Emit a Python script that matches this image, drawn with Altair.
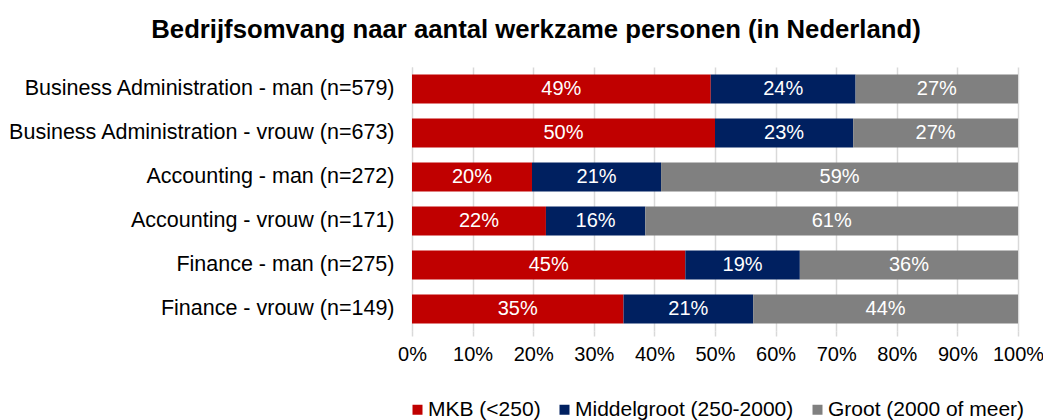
import altair as alt
import pandas as pd

categories = [
    "Business Administration - man (n=579)",
    "Business Administration - vrouw (n=673)",
    "Accounting - man (n=272)",
    "Accounting - vrouw (n=171)",
    "Finance - man (n=275)",
    "Finance - vrouw (n=149)",
]
series = ["MKB (<250)", "Middelgroot (250-2000)", "Groot (2000 of meer)"]
mkb = [49.3, 50.0, 19.8, 22.1, 45.1, 34.9]
middel = [23.9, 22.8, 21.3, 16.4, 18.9, 21.4]
groot = [26.8, 27.2, 58.9, 61.5, 36.0, 43.7]
labels_mkb = ["49%", "50%", "20%", "22%", "45%", "35%"]
labels_middel = ["24%", "23%", "21%", "16%", "19%", "21%"]
labels_groot = ["27%", "27%", "59%", "61%", "36%", "44%"]
colors = ["#C00000", "#002060", "#808080"]

rows = []
for si, (vals, labs) in enumerate([(mkb, labels_mkb), (middel, labels_middel), (groot, labels_groot)]):
    for ci, c in enumerate(categories):
        rows.append({"cat": c, "series": series[si], "order": si, "value": vals[ci], "label": labs[ci]})
df = pd.DataFrame(rows)

FONT = "Liberation Sans"

base = alt.Chart(df).transform_stack(
    stack="value", groupby=["cat"], as_=["v0", "v1"], sort=[alt.SortField("order")]
).transform_calculate(mid="(datum.v0 + datum.v1) / 2")

y = alt.Y("cat:N", sort=categories, title=None,
          scale=alt.Scale(paddingInner=0.34, paddingOuter=0.17),
          axis=alt.Axis(labelFontSize=21.5, labelFont=FONT, labelColor="#000000",
                        ticks=False, labelPadding=18, domain=True, domainColor="#d9d9d9",
                        labelLimit=500))

bars = base.mark_bar().encode(
    x=alt.X("v0:Q", scale=alt.Scale(domain=[0, 100], nice=False), title=None,
            axis=alt.Axis(values=list(range(0, 101, 10)), labelExpr="datum.value + '%'",
                          labelFontSize=20, labelFont=FONT, labelColor="#000000",
                          labelOverlap=False, labelBound=False, labelFlush=False,
                          grid=True, gridColor="#d9d9d9", gridWidth=1.5,
                          domain=False, ticks=True, tickColor="#d9d9d9", tickSize=5,
                          tickWidth=1.5, labelPadding=8)),
    x2="v1:Q",
    y=y,
    color=alt.Color("series:N", sort=series,
                    scale=alt.Scale(domain=series, range=colors),
                    legend=alt.Legend(title=None, orient="none", direction="horizontal",
                                      legendX=-5, legendY=332, symbolType="square",
                                      symbolSize=100, symbolStrokeWidth=0,
                                      labelFontSize=21, labelFont=FONT, labelColor="#000000",
                                      columnPadding=13, symbolOffset=0, labelOffset=0,
                                      labelLimit=400)),
)

text = base.mark_text(color="white", fontSize=20, font=FONT).encode(
    x="mid:Q",
    y=alt.Y("cat:N", sort=categories),
    text="label:N",
)

chart = (bars + text).properties(
    width=606, height=264,
    padding={"left": 404, "top": 59, "right": 25, "bottom": 90},
    autosize=alt.AutoSizeParams(type="none"),
    title=alt.TitleParams("Bedrijfsomvang naar aantal werkzame personen (in Nederland)",
                          fontSize=25.7, font=FONT, fontWeight="bold", color="#000000",
                          anchor="middle", dx=-179, offset=23),
).configure_view(stroke=None)

chart.save("out.html", embed_options={"renderer": "svg", "actions": False})
